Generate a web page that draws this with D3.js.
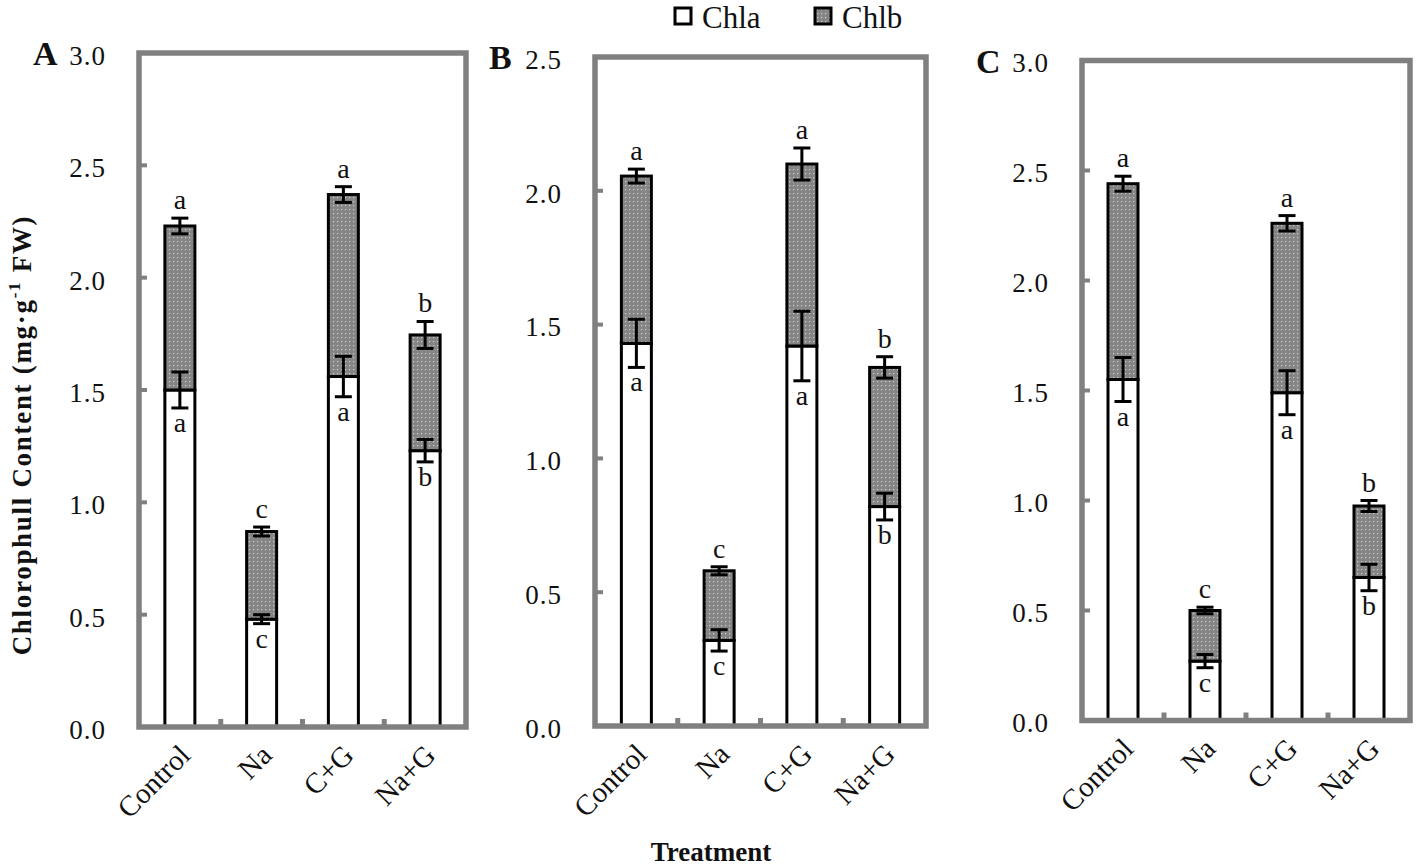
<!DOCTYPE html>
<html><head><meta charset="utf-8">
<script src="https://cdn.jsdelivr.net/npm/d3@7/dist/d3.min.js"></script>
<style>
html,body{margin:0;padding:0;background:#fff;}
svg{display:block;font-family:"Liberation Serif","Times New Roman",serif;}
</style></head>
<body>
<svg id="chart" width="1418" height="867"></svg>
<script>
const categories = ["Control", "Na", "C+G", "Na+G"];
const seriesNames = ["Chla", "Chlb"];

// Panel A
const chlaA = [1.50, 0.48, 1.56, 1.23];
const chlbA = [0.73, 0.39, 0.81, 0.515];
const chlaErrA = [0.08, 0.02, 0.09, 0.05];
const chlbErrA = [0.035, 0.02, 0.035, 0.06];
const topLettersA = ["a", "c", "a", "b"];
const lowLettersA = ["a", "c", "a", "b"];
const ticksA = [0.0, 0.5, 1.0, 1.5, 2.0, 2.5, 3.0];

// Panel B
const chlaB = [1.43, 0.32, 1.42, 0.82];
const chlbB = [0.625, 0.26, 0.68, 0.52];
const chlaErrB = [0.09, 0.04, 0.13, 0.05];
const chlbErrB = [0.026, 0.015, 0.06, 0.04];
const topLettersB = ["a", "c", "a", "b"];
const lowLettersB = ["a", "c", "a", "b"];
const ticksB = [0.0, 0.5, 1.0, 1.5, 2.0, 2.5];

// Panel C
const chlaC = [1.55, 0.27, 1.49, 0.65];
const chlbC = [0.89, 0.23, 0.77, 0.325];
const chlaErrC = [0.10, 0.03, 0.10, 0.06];
const chlbErrC = [0.034, 0.015, 0.035, 0.025];
const topLettersC = ["a", "c", "a", "b"];
const lowLettersC = ["a", "c", "a", "b"];
const ticksC = [0.0, 0.5, 1.0, 1.5, 2.0, 2.5, 3.0];

const yTitle = "Chlorophull Content (mg·g";
const xTitle = "Treatment";

const panels = [
  {id:"A", chla:chlaA, chlb:chlbA, ea:chlaErrA, eb:chlbErrA, tl:topLettersA, ll:lowLettersA, ticks:ticksA,
   left:139, right:466, top:53, bottom:727},
  {id:"B", chla:chlaB, chlb:chlbB, ea:chlaErrB, eb:chlbErrB, tl:topLettersB, ll:lowLettersB, ticks:ticksB,
   left:595, right:926, top:57, bottom:726},
  {id:"C", chla:chlaC, chlb:chlbC, ea:chlaErrC, eb:chlbErrC, tl:topLettersC, ll:lowLettersC, ticks:ticksC,
   left:1082, right:1410, top:60.5, bottom:720.5}
];

const svg = d3.select("#chart");
const defs = svg.append("defs");
const pat = defs.append("pattern").attr("id","dots").attr("patternUnits","userSpaceOnUse")
  .attr("width",4).attr("height",4);
pat.append("rect").attr("width",4).attr("height",4).attr("fill","#858585");
pat.append("rect").attr("x",1).attr("y",1).attr("width",1.2).attr("height",1.2).attr("fill","#d0d0d0");

const frameColor = "#808080";
const barW = 30;
const capW = 17;
const serif = "Liberation Serif, Times New Roman, serif";

panels.forEach(p => {
  const g = svg.append("g");
  const y = d3.scaleLinear().domain([0, d3.max(p.ticks)]).range([p.bottom, p.top]);
  const x = d3.scaleBand().domain(categories).range([p.left, p.right]).padding(0);

  // y tick labels via d3 axis
  const ax = g.append("g").attr("transform", `translate(${p.left},0)`)
    .call(d3.axisLeft(y).tickValues(p.ticks).tickFormat(d3.format(".1f")).tickSize(0).tickPadding(33));
  ax.attr("font-family", serif);
  ax.select(".domain").remove();
  ax.selectAll("text").attr("font-family", serif).attr("font-size",27)
    .attr("fill","#111").attr("dy","0.42em").attr("letter-spacing", 1);

  // inward tick marks
  g.selectAll(".ytick").data(p.ticks.filter(t => t > 0 && t < d3.max(p.ticks))).join("line")
    .attr("x1", p.left).attr("x2", p.left + 8)
    .attr("y1", d => y(d)).attr("y2", d => y(d))
    .attr("stroke", frameColor).attr("stroke-width", 4);
  g.selectAll(".xtick").data(categories.slice(1)).join("line")
    .attr("x1", d => x(d)).attr("x2", d => x(d))
    .attr("y1", p.bottom).attr("y2", p.bottom - 8)
    .attr("stroke", frameColor).attr("stroke-width", 5);

  // bars
  const bars = g.selectAll(".bar").data(categories).join("g");
  bars.append("rect")
    .attr("x", d => x(d) + x.bandwidth()/2 - barW/2)
    .attr("width", barW)
    .attr("y", (d,i) => y(p.chla[i]))
    .attr("height", (d,i) => y(0) - y(p.chla[i]))
    .attr("fill", "#fff").attr("stroke", "#000").attr("stroke-width", 3);
  bars.append("rect")
    .attr("x", d => x(d) + x.bandwidth()/2 - barW/2)
    .attr("width", barW)
    .attr("y", (d,i) => y(p.chla[i] + p.chlb[i]))
    .attr("height", (d,i) => y(p.chla[i]) - y(p.chla[i] + p.chlb[i]))
    .attr("fill", "url(#dots)").attr("stroke", "#000").attr("stroke-width", 3);

  // error bars
  function errBar(cx, v, e) {
    const eg = g.append("g").attr("stroke","#000").attr("stroke-width",3);
    eg.append("line").attr("x1",cx).attr("x2",cx).attr("y1",y(v-e)).attr("y2",y(v+e));
    eg.append("line").attr("x1",cx-capW/2).attr("x2",cx+capW/2).attr("y1",y(v-e)).attr("y2",y(v-e));
    eg.append("line").attr("x1",cx-capW/2).attr("x2",cx+capW/2).attr("y1",y(v+e)).attr("y2",y(v+e));
  }
  categories.forEach((c,i) => {
    const cx = x(c) + x.bandwidth()/2;
    errBar(cx, p.chla[i], p.ea[i]);
    errBar(cx, p.chla[i] + p.chlb[i], p.eb[i]);
    g.append("text").attr("x", cx).attr("y", y(p.chla[i] + p.chlb[i] + p.eb[i]) - 9)
      .attr("text-anchor","middle").attr("font-size",28).attr("fill","#111").text(p.tl[i]);
    g.append("text").attr("x", cx).attr("y", y(p.chla[i] - p.ea[i]) + 24)
      .attr("text-anchor","middle").attr("font-size",28).attr("fill","#111").text(p.ll[i]);
  });

  // frame
  g.append("rect").attr("x", p.left).attr("y", p.top)
    .attr("width", p.right - p.left).attr("height", p.bottom - p.top)
    .attr("fill","none").attr("stroke", frameColor).attr("stroke-width", 5.5);

  // category labels
  categories.forEach(c => {
    const cx = x(c) + x.bandwidth()/2;
    g.append("text").attr("transform", `translate(${cx + 12},${p.bottom + 30}) rotate(-45)`)
      .attr("text-anchor","end").attr("font-size",29).attr("fill","#111").text(c);
  });

  // panel letter
  g.append("text").attr("x", p.left - 106).attr("y", p.top + 12)
    .attr("font-size",34).attr("font-weight","bold").attr("fill","#111").text(p.id);
});

// y-axis title
const yt = svg.append("text").attr("transform","translate(31,435) rotate(-90)")
  .attr("text-anchor","middle").attr("font-size",27).attr("font-weight","bold")
  .attr("letter-spacing", 1.7).attr("fill","#111");
yt.append("tspan").text(yTitle);
yt.append("tspan").attr("font-size",17).attr("dy",-11).text("-1");
yt.append("tspan").attr("dy",11).text(" FW)");

// x-axis title
svg.append("text").attr("x",711).attr("y",861).attr("text-anchor","middle")
  .attr("font-size",27).attr("font-weight","bold").attr("fill","#111").text(xTitle);

// legend
const legendX = [675, 815];
const legendFills = ["#fff", "url(#dots)"];
seriesNames.forEach((s,i) => {
  svg.append("rect").attr("x", legendX[i]).attr("y", 8).attr("width", 16).attr("height", 16)
    .attr("fill", legendFills[i]).attr("stroke","#000").attr("stroke-width",3);
  svg.append("text").attr("x", legendX[i] + 27).attr("y", 28).attr("font-size",31)
    .attr("fill","#111").text(s);
});
</script>
</body></html>
